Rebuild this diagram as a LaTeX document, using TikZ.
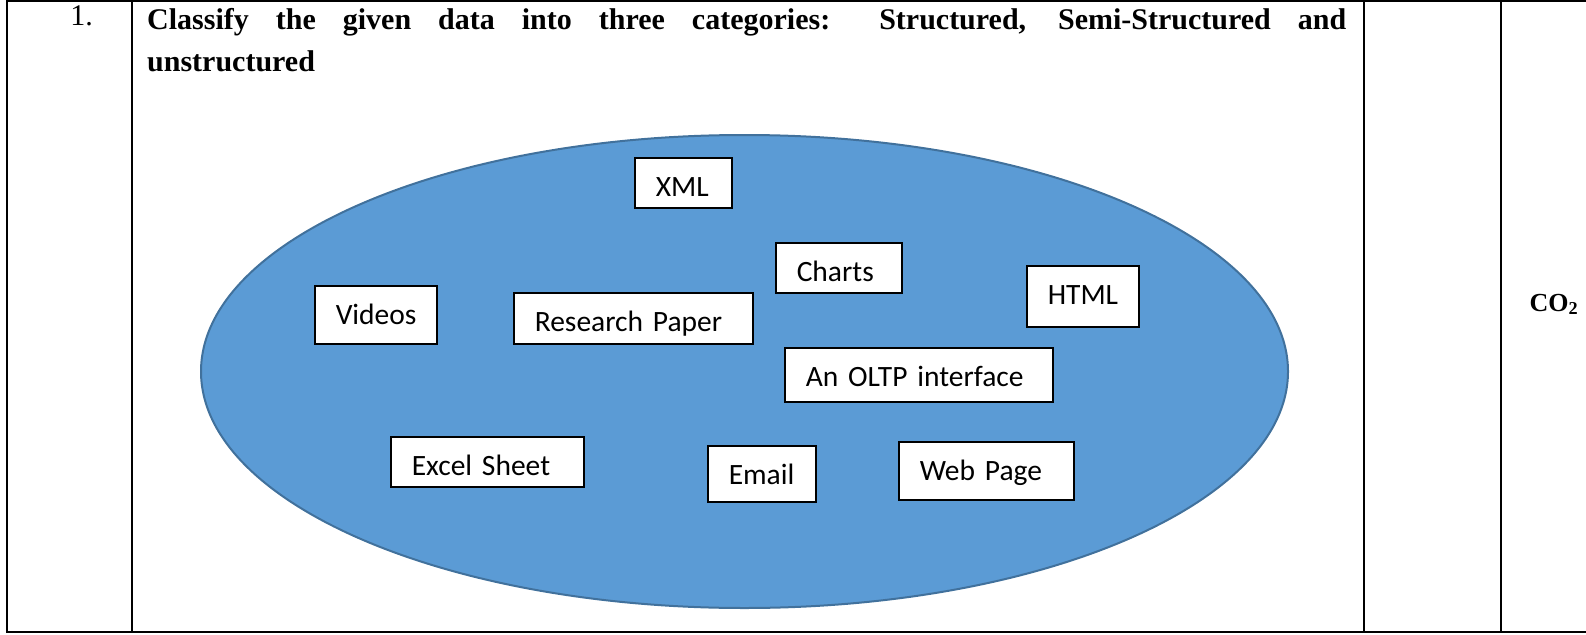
\documentclass[tikz,border=0pt]{standalone}
\usepackage{fontspec}
\setmainfont{Liberation Serif}
\newfontfamily\boxfont{Carlito}
\usepackage{tikz}
\usepackage{xcolor}
\definecolor{ovalblue}{HTML}{5B9BD5}
\definecolor{ovaledge}{HTML}{41719C}

\begin{document}
\begin{tikzpicture}[x=1pt, y=-1pt,
    rule/.style={line width=2pt},
    databox/.style={draw=black, line width=1.5pt, fill=white, anchor=north west,
        inner xsep=21pt, inner ysep=0pt, align=left, text height=39pt,
        font=\boxfont\fontsize{29.5}{34}\selectfont}]
    \useasboundingbox (0,0) rectangle (1586,634);
    % table rules
    \draw[rule] (6,1) -- (1586,1);
    \draw[rule] (6,632) -- (1586,632);
    \foreach \x in {7, 131.5, 1363.5, 1501} \draw[rule] (\x,0) -- (\x,633);
    % cell texts
    \node[anchor=base, inner sep=0pt, font=\fontsize{30}{43}\selectfont] (num) at (81.5,26) {1.};
    \node[anchor=base west, inner sep=0pt, text width=1199pt, align=justify,
        font=\bfseries\fontsize{30}{42.5}\selectfont] (question) at (147,29.5)
        {Classify the given data into three categories: Structured, Semi-Structured and\linebreak unstructured};
    \node[anchor=base, inner sep=0pt, font=\bfseries\fontsize{26}{30}\selectfont] (co) at (1554,311) {CO\textsubscript{2}};
    % oval with the data items
    \filldraw[fill=ovalblue, draw=ovaledge, line width=2pt] (744.5,371.5) ellipse [x radius=543.5pt, y radius=236.5pt];
    \node[databox, text width=55pt, text depth=11pt] (xml) at (634,157) {XML};
    \node[databox, text width=84pt, text depth=11pt] (charts) at (775,242) {Charts};
    \node[databox, text width=70pt, text depth=22pt] (html) at (1026,265) {HTML};
    \node[databox, text width=80pt, text depth=19pt] (videos) at (314,285) {Videos};
    \node[databox, text width=197pt, text depth=12pt] (paper) at (513,292) {Research Paper};
    \node[databox, text width=226pt, text depth=15pt] (oltp) at (784,347) {An OLTP interface};
    \node[databox, text width=151pt, text depth=11pt] (excel) at (390,436) {Excel Sheet};
    \node[databox, text width=66pt, text depth=17pt] (email) at (707,445) {Email};
    \node[databox, text width=133pt, text depth=19pt] (webpage) at (898,441) {Web Page};
\end{tikzpicture}
\end{document}
